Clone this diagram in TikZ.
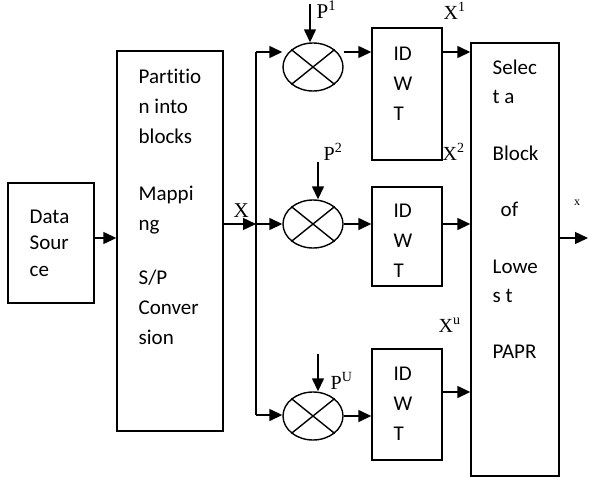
\documentclass[tikz,border=0pt]{standalone}
\usepackage{fontspec}
\setmainfont{Carlito}[Ligatures=NoCommon]
\newfontfamily\serifface{Liberation Serif}
\usetikzlibrary{arrows.meta,shapes.geometric}

\begin{document}
\begin{tikzpicture}[x=1pt,y=-1pt,line width=1.4pt,
    blk/.style={draw,rectangle,inner sep=0pt},
    mult/.style={draw,ellipse,minimum width=60pt,minimum height=48pt,inner sep=0pt},
    txt/.style={anchor=base west,align=left,inner sep=0pt,font=\fontsize{21}{30}\selectfont},
    lbl/.style={anchor=base west,inner sep=0pt,font=\serifface\fontsize{20}{20}\selectfont},
    >={Triangle[length=13pt,width=12pt]}]
    \useasboundingbox (0,0) rectangle (590,477);

    \node[blk,minimum width=86pt,minimum height=120pt] (data) at (51,243) {};
    \node[blk,minimum width=106pt,minimum height=380pt] (part) at (170,241) {};
    \node[blk,minimum width=70pt,minimum height=132pt] (idwt1) at (407,94) {};
    \node[blk,minimum width=70pt,minimum height=99pt] (idwt2) at (407,236.5) {};
    \node[blk,minimum width=70pt,minimum height=111pt] (idwt3) at (407,404.5) {};
    \node[blk,minimum width=88pt,minimum height=433pt] (sel) at (515,259.5) {};
    \node[mult] (mul1) at (313,67) {};
    \node[mult] (mul2) at (313,224) {};
    \node[mult] (mul3) at (313,416) {};
    \foreach \m in {mul1,mul2,mul3} {
        \draw (\m.north west) -- (\m.south east);
        \draw (\m.north east) -- (\m.south west);
    }

    % text blocks sit on the baseline of their last line
    \node[txt,font=\fontsize{21}{26.5}\selectfont] (datatxt) at (29,276) {Data\\Sour\\ce};
    \node[txt] (parttxt) at (138,344) {Partitio\\n into\\blocks\\[27pt]Mappi\\ng\\[24pt]S/P\\Conver\\sion};
    \node[txt] (idwttxt1) at (393,120) {ID\\W\\T};
    \node[txt] (idwttxt2) at (393,277) {ID\\W\\T};
    \node[txt] (idwttxt3) at (393,440) {ID\\W\\T};
    \node[txt,font=\fontsize{21}{29.5}\selectfont] (seltxt) at (492,358)
        {Selec\\t a\\[27pt]Block\\[27pt]\hspace*{8pt}of\\[27pt]Lowe\\s t\\[26pt]PAPR};

    \coordinate (b1) at (256,52);
    \coordinate (b2) at (256,224);
    \coordinate (b3) at (256,415);
    \coordinate (p1) at (310,4);
    \coordinate (p2) at (318,162);
    \coordinate (p3) at (318,354);
    \coordinate (out) at (588,238);

    \draw[->] ([yshift=5pt]data.east) -- ([yshift=5pt]data.east -| part.west);
    \draw[->] (part.east |- b2) -- (b2);
    \draw (b1) -- (b3);
    \draw[->] (b1) -- (b1 -| mul1.west);
    \draw[->] (b2) -- (mul2.west);
    \draw[->] (b3) -- (b3 -| mul3.west);
    \draw[->] (p1) -- (p1 |- mul1.north);
    \draw[->] (p2) -- (p2 |- mul2.north);
    \draw[->] (p3) -- (p3 |- mul3.north);
    \draw[->] (b1 -| mul1.east) -- (b1 -| idwt1.west);
    \draw[->] (mul2.east) -- (mul2.east -| idwt2.west);
    \draw[->] (mul3.east) -- (mul3.east -| idwt3.west);
    \draw[->] (b1 -| idwt1.east) -- (b1 -| sel.west);
    \draw[->] (b2 -| idwt2.east) -- (b2 -| sel.west);
    \draw[->] ([yshift=12.5pt]idwt3.east) -- ([yshift=12.5pt]idwt3.east -| sel.west);
    \draw[->] (out -| sel.east) -- (out);

    \node[lbl,font=\serifface\fontsize{21}{21}\selectfont] (xlbl) at (233,217) {X};
    \node[lbl,font=\serifface\fontsize{21}{21}\selectfont] (p1lbl) at (316,18) {P\textsuperscript{1}};
    \node[lbl] (p2lbl) at (323,160) {P\textsuperscript{2}};
    \node[lbl] (p3lbl) at (330,389) {P\textsuperscript{U}};
    \node[lbl] (x1lbl) at (443,19) {X\textsuperscript{1}};
    \node[lbl] (x2lbl) at (442,160) {X\textsuperscript{2}};
    \node[lbl] (x3lbl) at (438,332) {X\textsuperscript{u}};
    \node[inner sep=0pt,font=\serifface\fontsize{12}{12}\selectfont] (outlbl) at (577,203) {x};
\end{tikzpicture}
\end{document}
